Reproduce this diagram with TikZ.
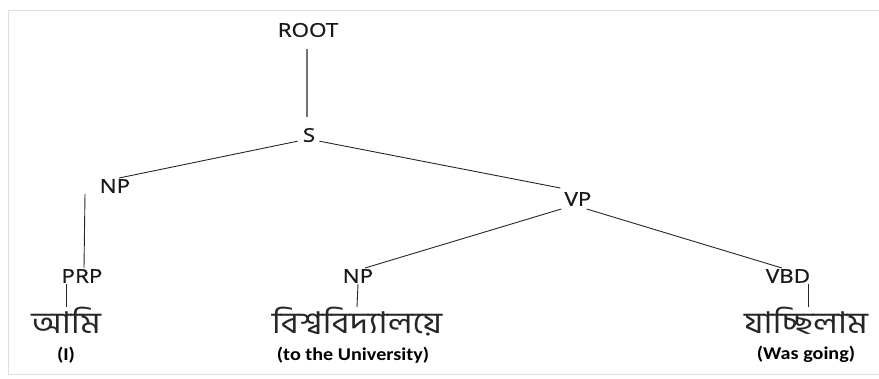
\documentclass[tikz,border=0pt]{standalone}
\usepackage{fontspec}
\setmainfont{Open Sans}[FakeStretch=1.18, FakeBold=1.0]
\newfontfamily\glossfont{Carlito}[FakeStretch=1.12]
\newfontfamily\bnfont[Script=Bengali, FakeStretch=1.15]{Hind Siliguri}
\begin{document}
\begin{tikzpicture}[x=1pt,y=-1pt,
  tag/.style={inner sep=1pt, font=\fontsize{19}{19}\selectfont, text=black!90},
  word/.style={inner sep=0pt, text depth=1pt, font=\bnfont\fontsize{30}{30}\selectfont, text=black!85},
  gloss/.style={inner sep=0pt, text height=11pt, font=\glossfont\bfseries\fontsize{18}{18}\selectfont, text=black},
  edge/.style={draw=black!85, line width=0.9pt}]
\useasboundingbox (0,0) rectangle (879,379);
% light frame
\draw[black!12, line width=1pt] (879,11) -- (8,11) -- (8,375) -- (879,375);

% constituent labels
\node[tag] (root) at (308,30) {ROOT};
\node[tag] (s)    at (309,135) {S};
\node[tag] (np1)  at (115,186) {NP};
\node[tag] (vp)   at (578,199) {VP};
\node[tag] (prp)  at (82,276) {PRP};
\node[tag] (np2)  at (358,276) {NP};
\node[tag] (vbd)  at (788,276) {VBD};

% Bengali words and glosses
\node[word] (w1) at (66,321) {আমি};
\node[word] (w2) at (357,321) {বিশ্ববিদ্যালয়ে};
\node[word] (w3) at (806,321) {যাচ্ছিলাম};
\node[gloss] (g1) at (66,356) {(I)};
\node[gloss] (g2) at (353,356) {(to the University)};
\node[gloss] (g3) at (806,356) {(Was going)};

% tree edges
\draw[edge, black!55, line width=1.3pt] (307,49) -- (307,117);
\draw[edge] ([xshift=-4pt,yshift=2pt]s.south west) -- ([xshift=4pt]np1.north);
\draw[edge] ([xshift=3pt,yshift=2pt]s.south east) -- ([xshift=-3pt,yshift=3pt]vp.north west);
\draw[edge] ([xshift=-30pt]np1.south) -- ([xshift=2pt]prp.north);
\draw[edge] ([xshift=-2pt,yshift=-2pt]vp.south west) -- ([xshift=7pt]np2.north);
\draw[edge] ([xshift=-6pt,yshift=-2pt]vp.south east) -- ([xshift=-6pt]vbd.north);
\draw[edge] ([xshift=-16pt]prp.south) -- (w1.north -| 66,0);
\draw[edge] (np2.south) -- (w2.north -| 357,0);
\draw[edge] ([xshift=20pt]vbd.south) -- (w3.north -| 808,0);
\end{tikzpicture}
\end{document}
